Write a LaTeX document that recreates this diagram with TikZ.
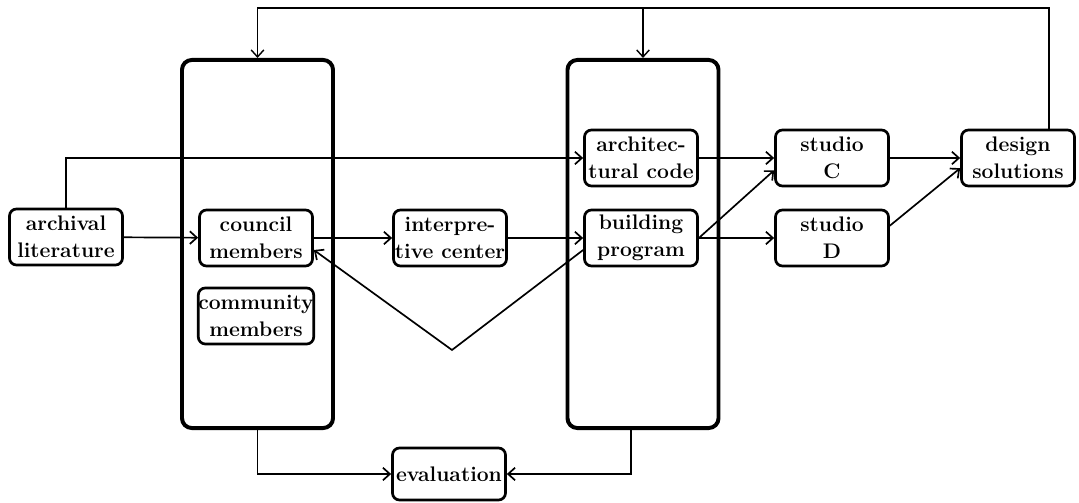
\documentclass[tikz,border=0pt]{standalone}
\usetikzlibrary{positioning,calc,arrows.meta}

\tikzset{
  every picture/.style={/utils/exec={\fontsize{15}{19}\selectfont\bfseries}},
  stepbox/.style={draw, line width=1.9pt, rounded corners=5pt, align=center,
    minimum width=2.825cm, minimum height=1.4cm, inner sep=1pt},
  panel/.style={draw, line width=2.8pt, rounded corners=7pt,
    minimum width=3.775cm, minimum height=9.2cm},
  link/.style={line width=1.2pt, -{Straight Barb[length=5pt,width=9pt,line width=1.2pt]}},
  feedback/.style={line width=0.9pt, -{Straight Barb[length=5pt,width=9pt,line width=1pt]}}
}

\begin{document}
\begin{tikzpicture}[x=0.025cm, y=-0.025cm]
  \useasboundingbox (0,0) rectangle (1079,503);

  % the two phases
  \node [panel] (panelL) at (257.5,244) {};
  \node [panel] (panelR) at (643,244) {};

  \node [stepbox] (arch) at (66,237) {archival\\literature};
  \node [stepbox] (council) at (256,238) {council\\members};
  \node [stepbox, inner sep=0pt] (commun) at (256,316) {community\\members};
  \node [stepbox] (interp) at (450,238) {interpre-\\tive center};
  \node [stepbox] (code) at (641,158) {architec-\\tural code};
  \node [stepbox] (prog) at (641,238) {building\\program};
  \node [stepbox] (studC) at (832,158) {studio\\C};
  \node [stepbox] (studD) at (832,238) {studio\\D};
  \node [stepbox] (sol) at (1018,158) {design\\solutions};
  \node [stepbox, minimum height=1.3cm] (eval) at (449,474) {evaluation};

  \coordinate (dip) at (452,350);

  \draw [link] (arch) -- (council);
  \draw [link] (council) -- (interp);
  \draw [link] (interp) -- (prog);
  \draw [link] ($(prog.west)+(0,12)$) -- (dip) -- ($(council.east)+(0,12)$);
  \draw [link] (arch.north) |- (code.west);
  \draw [link] (code) -- (studC);
  \draw [link] (prog.east) -- (studC.192);
  \draw [link] (prog) -- (studD);
  \draw [link] (studC) -- (sol);
  \draw [link] (studD.12) -- (sol.190);

  % feedback to both phases
  \draw [feedback] ($(sol.north)+(31,0)$) |- (panelL.north |- 0,8) -- (panelL.north);
  \draw [feedback] (panelR.north |- 0,8) -- (panelR.north);

  \draw [link] (panelL.south) |- (eval.west);
  \draw [link] ($(panelR.south)+(-12,0)$) |- (eval.east);
\end{tikzpicture}
\end{document}
